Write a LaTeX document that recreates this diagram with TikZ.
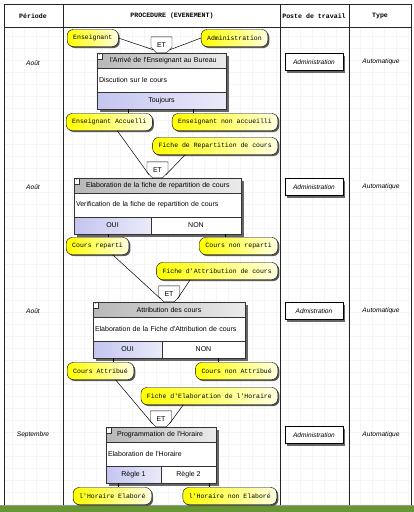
\documentclass[tikz,border=0pt]{standalone}
\usepackage{fontspec}
\usetikzlibrary{positioning,shadows,shapes.misc}
\newfontfamily\monofam{Liberation Mono}
\newfontfamily\sansfam{Liberation Sans}
\definecolor{evyellow}{RGB}{255,255,0}
\definecolor{lav}{RGB}{196,196,240}
\definecolor{bargreen}{RGB}{104,150,52}
\newcommand\evfont{\monofam\fontsize{6.5}{7}\selectfont}
\newcommand\hdfont{\monofam\bfseries\fontsize{6.6}{8}\selectfont}
\newcommand\procfont{\sansfam\fontsize{7}{8}\selectfont}
\newcommand\cellfont{\sansfam\itshape\fontsize{6.6}{7.5}\selectfont}

\begin{document}
\begin{tikzpicture}[
  x=1pt, y=-1pt,
  tabline/.style={draw=black!85, line width=1pt},
  gridline/.style={draw=black!4, line width=0.3pt, step=12pt},
  evt/.style={draw, rounded corners=6pt, left color=evyellow, right color=evyellow!12,
    font=\evfont, minimum height=17pt, inner xsep=6pt, inner ysep=0pt,
    drop shadow={shadow xshift=1.5pt, shadow yshift=-1.5pt, opacity=1, fill=black!65}},
  etnode/.style={draw, fill=white, chamfered rectangle,
    chamfered rectangle corners={south west,south east},
    chamfered rectangle xsep=3pt, chamfered rectangle ysep=3pt,
    minimum width=21pt, minimum height=16pt, inner sep=0pt, font=\procfont},
  prow/.style={draw=black!80, fill=white, font=\procfont, inner xsep=2pt, inner ysep=0pt,
    align=left, outer sep=0pt,
    drop shadow={shadow xshift=3pt, shadow yshift=-3pt, opacity=1, fill=black!60}},
  phead/.style={prow, left color=black!28, right color=black!8, minimum height=15pt},
  pbody/.style={prow, minimum height=24pt},
  plow/.style={prow, align=center, left color=lav, right color=lav!35, minimum height=17pt},
  pno/.style={prow, align=center, minimum height=17pt},
  minusbox/.style={draw=black!80, fill=white, minimum width=5pt, minimum height=6pt,
    inner sep=0pt, font=\sansfam\fontsize{5}{5}\selectfont},
  poste/.style={draw, fill=white, font=\cellfont, minimum width=58pt, minimum height=17pt,
    inner sep=0pt, drop shadow={shadow xshift=2pt, shadow yshift=-2pt, opacity=1, fill=black!60}},
  cell/.style={font=\cellfont},
  head/.style={font=\hdfont},
  link/.style={draw, line width=0.5pt}
]
  \useasboundingbox (0,0) rectangle (414,512);
  \fill[white] (0,0) rectangle (414,512);
  \draw[gridline] (4,28) grid (411,505);

  \draw[tabline] (4,505) -- (4,4) -- (411,4) -- (411,505);
  \draw[tabline] (4,27) -- (411,27);
  \draw[tabline] (63,4) -- (63,505);
  \draw[tabline] (280,4) -- (280,505);
  \draw[tabline] (349,4) -- (349,505);
  \draw[black!40, line width=1pt] (0,505) -- (414,505);
  \fill[bargreen] (0,506) rectangle (414,512);

  \node[head] (hper) at (33,16) {Période};
  \node[head] (hproc) at (172,16) {PROCEDURE (EVENEMENT)};
  \node[head] (hposte) at (314,16) {Poste de travail};
  \node[head] (htype) at (380,16) {Type};

  \node[cell] (per1) at (33,63) {Août};
  \node[cell] (per2) at (33,187) {Août};
  \node[cell] (per3) at (33,311) {Août};
  \node[cell] (per4) at (33,435) {Septembre};
  \node[poste] (poste1) at (314,62) {Administration};
  \node[poste] (poste2) at (314,187) {Administration};
  \node[poste] (poste3) at (314,311) {Admistration};
  \node[poste] (poste4) at (314,435) {Administration};
  \node[cell] (type1) at (381,62) {Automatique};
  \node[cell] (type2) at (381,187) {Automatique};
  \node[cell] (type3) at (381,311) {Automatique};
  \node[cell] (type4) at (381,435) {Automatique};

  \node[evt, anchor=west] (ens) at (67,38) {Enseignant};
  \node[evt, anchor=east] (adm) at (268,38) {Administration};
  \node[evt, anchor=west] (eacc) at (66,122) {Enseignant Accuelli};
  \node[evt, anchor=east] (enacc) at (278,122) {Enseignant non accueilli};
  \node[evt, anchor=east] (frep) at (278,146) {Fiche de Repartition de cours};
  \node[evt, anchor=west] (crep) at (66,246) {Cours reparti};
  \node[evt, anchor=east] (cnrep) at (278,246) {Cours non reparti};
  \node[evt, anchor=east] (fattr) at (278,271) {Fiche d'Attribution de cours};
  \node[evt, anchor=west] (catt) at (67,371) {Cours Attribué};
  \node[evt, anchor=east] (cnatt) at (278,371) {Cours non Attribué};
  \node[evt, anchor=east] (fhor) at (278,396) {Fiche d'Elaboration de l'Horaire};
  \node[evt, anchor=west] (helab) at (73,496) {l'Horaire Elaboré};
  \node[evt, anchor=east] (hnelab) at (277,496) {l'Horaire non Elaboré};

  \node[phead, text width=125pt, anchor=north west] (p1h) at (97,53) {\hspace*{11pt}l'Arrivé de l'Enseignant au Bureau};
  \node[pbody, text width=125pt, below=0pt of p1h] (p1b) {Discution sur le cours};
  \node[plow, text width=125pt, below=0pt of p1b] (p1l) {Toujours};
  \node[minusbox, anchor=north west] (p1m) at (p1h.north west) {-};
  \node[etnode, above=0pt of p1h] (et1) {ET};

  \node[phead, text width=163pt, anchor=north west] (p2h) at (74,178) {\hspace*{10pt}Elaboration de la fiche de repartition de cours};
  \node[pbody, text width=163pt, below=0pt of p2h] (p2b) {Verification de la fiche de repartition de cours};
  \node[plow, minimum width=77pt, anchor=north west] (p2oui) at (p2b.south west) {OUI};
  \node[pno, minimum width=90pt, right=0pt of p2oui] (p2non) {NON};
  \node[minusbox, anchor=north west] (p2m) at (p2h.north west) {-};
  \node[etnode, above=0pt of p2h] (et2) {ET};

  \node[phead, text width=148pt, align=center, anchor=north west] (p3h) at (93,302) {Attribution des cours};
  \node[pbody, text width=148pt, below=0pt of p3h] (p3b) {Elaboration de la Fiche d'Attribution de cours};
  \node[plow, minimum width=69pt, anchor=north west] (p3oui) at (p3b.south west) {OUI};
  \node[pno, minimum width=83pt, right=0pt of p3oui] (p3non) {NON};
  \node[minusbox, anchor=north west] (p3m) at (p3h.north west) {-};
  \node[etnode, above=0pt of p3h] (et3) {ET};

  \node[phead, text width=106pt, anchor=north west] (p4h) at (106,427) {\hspace*{9pt}Programmation de l'Horaire};
  \node[pbody, text width=106pt, below=0pt of p4h] (p4b) {Elaboration de l'Horaire};
  \node[plow, minimum width=55pt, anchor=north west] (p4r1) at (p4b.south west) {Règle 1};
  \node[pno, minimum width=55pt, right=0pt of p4r1] (p4r2) {Règle 2};
  \node[minusbox, anchor=north west] (p4m) at (p4h.north west) {-};
  \node[etnode, above=0pt of p4h] (et4) {ET};

  \draw[link] (ens.east) -- (et1.-150);
  \draw[link] (adm.west) -- (et1.-30);
  \draw[link] ([xshift=8]eacc.south) -- (et2.-150);
  \draw[link] ([xshift=-30]frep.south) -- (et2.-30);
  \draw[link] ([xshift=15]crep.south) -- (et3.-150);
  \draw[link] ([xshift=-27]fattr.south) -- (et3.-30);
  \draw[link] ([xshift=15]catt.south) -- (et4.-150);
  \draw[link] ([xshift=-26]fhor.south) -- (et4.-30);

  \draw[link] ([xshift=31]p1l.south west) -- ([xshift=31]p1l.south west |- eacc.north);
  \draw[link] ([xshift=96]p1l.south west) -- ([xshift=96]p1l.south west |- enacc.north);
  \draw[link] ([xshift=34]p2oui.south west) -- ([xshift=34]p2oui.south west |- crep.north);
  \draw[link] ([xshift=74]p2non.south west) -- ([xshift=74]p2non.south west |- cnrep.north);
  \draw[link] ([xshift=20]p3oui.south west) -- ([xshift=20]p3oui.south west |- catt.north);
  \draw[link] ([xshift=56]p3non.south west) -- ([xshift=56]p3non.south west |- cnatt.north);
  \draw[link] ([xshift=12]p4r1.south west) -- ([xshift=12]p4r1.south west |- helab.north);
  \draw[link] ([xshift=48]p4r2.south west) -- ([xshift=48]p4r2.south west |- hnelab.north);
\end{tikzpicture}
\end{document}
